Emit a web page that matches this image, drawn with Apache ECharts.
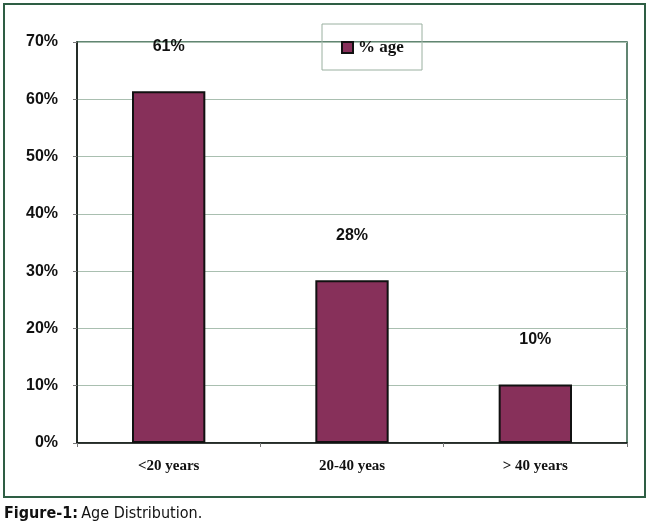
<!DOCTYPE html>
<html>
<head>
<meta charset="utf-8">
<script src="https://cdn.jsdelivr.net/npm/echarts@6/dist/echarts.min.js"></script>
<style>
  html, body { margin: 0; padding: 0; background: #fff; }
  #chart { width: 650px; height: 532px; }
</style>
</head>
<body>
<div id="chart"></div>
<script>
const categories = ['<20 years', '20-40 yeas', '> 40 years']
const ageShare = [61.4, 28.4, 10.2]
const yTicks = [0, 10, 20, 30, 40, 50, 60, 70]

const frameColor = '#2E5E44'
const barColor = '#87305A'
const captionFont = "'Liberation Sans Narrow', 'DejaVu Sans Condensed', 'DejaVu Sans', sans-serif"

const chart = echarts.init(document.getElementById('chart'), null, { renderer: 'canvas' })

chart.setOption({
    animation: false,
    grid: {
        left: 77,
        right: 23,
        top: 42,
        bottom: 89,
        show: true,
        borderColor: frameColor,
        borderWidth: 1.5
    },
    legend: {
        data: ['% age'],
        left: 336,
        top: 34,
        icon: 'rect',
        itemWidth: 11,
        itemHeight: 11,
        itemGap: 3,
        textStyle: {
            fontFamily: 'Liberation Serif',
            fontWeight: 'bold',
            fontSize: 17,
            color: '#111'
        }
    },
    xAxis: {
        type: 'category',
        data: categories,
        axisLine: { lineStyle: { color: '#111', width: 1.5 } },
        axisTick: { show: true, length: 4, lineStyle: { color: '#777' } },
        axisLabel: {
            margin: 16,
            fontFamily: 'Liberation Serif',
            fontWeight: 'bold',
            fontSize: 15,
            color: '#111'
        }
    },
    yAxis: {
        type: 'value',
        min: yTicks[0],
        max: yTicks[yTicks.length - 1],
        interval: 10,
        axisLine: { show: true, lineStyle: { color: '#111', width: 1.5 } },
        axisTick: { show: true, length: 4, lineStyle: { color: '#777' } },
        splitLine: { lineStyle: { color: '#A9BFB0', width: 1.2 } },
        axisLabel: {
            margin: 19,
            formatter: v => v + '%',
            fontFamily: 'Liberation Sans',
            fontWeight: 'bold',
            fontSize: 16,
            color: '#111'
        }
    },
    series: [{
        name: '% age',
        type: 'bar',
        data: ageShare,
        barWidth: '40%',
        itemStyle: {
            color: barColor,
            borderColor: '#111',
            borderWidth: 2
        },
        label: {
            show: true,
            position: 'top',
            distance: 37,
            formatter: p => Math.round(p.value) + '%',
            fontFamily: 'Liberation Sans',
            fontWeight: 'bold',
            fontSize: 16,
            color: '#111'
        }
    }],
    graphic: [
        {
            type: 'rect',
            shape: { x: 4, y: 4, width: 641, height: 493 },
            style: { fill: 'none', stroke: frameColor, lineWidth: 2 },
            silent: true
        },
        {
            type: 'rect',
            shape: { x: 322, y: 24, width: 100, height: 46 },
            style: { fill: 'none', stroke: '#9AB0A0', lineWidth: 1 },
            silent: true
        },
        {
            type: 'text',
            left: 4,
            top: 506,
            style: {
                text: '{b|Figure-1:} {n|Age Distribution.}',
                rich: {
                    b: {
                        fontFamily: captionFont,
                        fontWeight: 'bold',
                        fontSize: 16,
                        fill: '#111'
                    },
                    n: {
                        fontFamily: captionFont,
                        fontSize: 16,
                        fill: '#111'
                    }
                }
            }
        }
    ]
})
</script>
</body>
</html>
